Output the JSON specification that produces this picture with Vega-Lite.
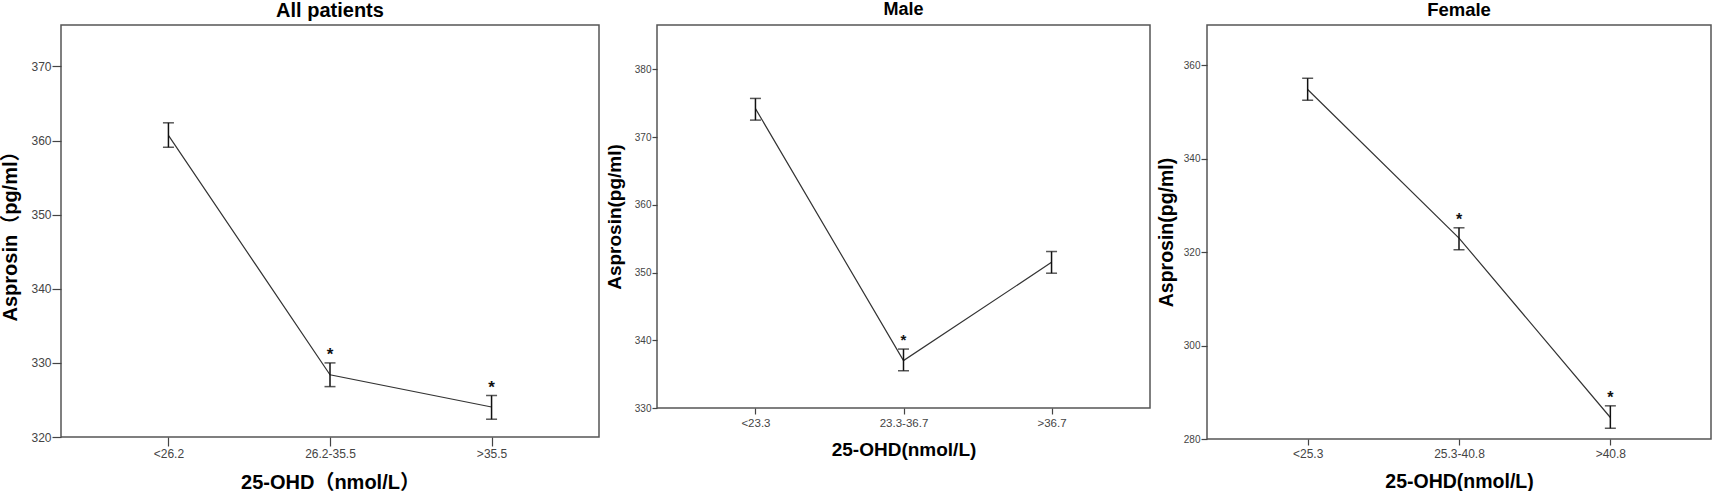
{
  "$schema": "https://vega.github.io/schema/vega-lite/v6.json",
  "padding": {"left": 0, "top": 0, "right": 0, "bottom": 0},
  "spacing": 4,
  "bounds": "full",
  "data": {
    "values": [
      {"panel": "All", "group": "<26.2", "mean": 360.7, "lo": 359.1, "hi": 362.4, "star": ""},
      {"panel": "All", "group": "26.2-35.5", "mean": 328.4, "lo": 326.8, "hi": 330.0, "star": "*"},
      {"panel": "All", "group": ">35.5", "mean": 324.05, "lo": 322.4, "hi": 325.6, "star": "*"},
      {"panel": "Male", "group": "<23.3", "mean": 374.2, "lo": 372.5, "hi": 375.7, "star": ""},
      {"panel": "Male", "group": "23.3-36.7", "mean": 337.0, "lo": 335.5, "hi": 338.7, "star": "*"},
      {"panel": "Male", "group": ">36.7", "mean": 351.5, "lo": 349.9, "hi": 353.1, "star": ""},
      {"panel": "Female", "group": "<25.3", "mean": 354.8, "lo": 352.5, "hi": 357.2, "star": ""},
      {"panel": "Female", "group": "25.3-40.8", "mean": 323.0, "lo": 320.5, "hi": 325.2, "star": "*"},
      {"panel": "Female", "group": ">40.8", "mean": 284.6, "lo": 282.3, "hi": 287.1, "star": "*"}
    ]
  },
  "hconcat": [
    {
      "title": {"text": "All patients", "fontSize": 20, "offset": 4},
      "width": 538,
      "height": 412,
      "transform": [{"filter": "datum.panel === 'All'"}],
      "encoding": {
        "x": {
          "field": "group",
          "type": "nominal",
          "sort": ["<26.2", "26.2-35.5", ">35.5"],
          "scale": {"type": "point", "padding": 0.665},
          "axis": {"title": "25-OHD（nmol/L）", "labelAngle": 0, "tickSize": 9, "labelPadding": 2, "labelFontSize": 12, "titleFontSize": 20, "titlePadding": 13}
        }
      },
      "layer": [
        {
          "mark": {"type": "line", "color": "#333", "strokeWidth": 1.2},
          "encoding": {
            "y": {
              "field": "mean",
              "type": "quantitative",
              "title": "Asprosin（pg/ml）",
              "scale": {"domain": [320, 375.6], "nice": false, "zero": false},
              "axis": {"values": [320, 330, 340, 350, 360, 370], "tickSize": 9, "labelPadding": 1, "labelFontSize": 12, "titleFontSize": 20, "titlePadding": 10}
            }
          }
        },
        {
          "mark": {"type": "rule", "color": "#111", "strokeWidth": 1.5},
          "encoding": {
            "y": {"field": "lo", "type": "quantitative", "title": "Asprosin（pg/ml）"},
            "y2": {"field": "hi"}
          }
        },
        {
          "mark": {"type": "tick", "color": "#111", "size": 11, "thickness": 1.5},
          "encoding": {"y": {"field": "lo", "type": "quantitative", "title": "Asprosin（pg/ml）"}}
        },
        {
          "mark": {"type": "tick", "color": "#111", "size": 11, "thickness": 1.5},
          "encoding": {"y": {"field": "hi", "type": "quantitative", "title": "Asprosin（pg/ml）"}}
        },
        {
          "mark": {"type": "text", "fontSize": 17, "fontWeight": "bold", "baseline": "alphabetic", "dy": -3, "color": "#111"},
          "encoding": {
            "y": {"field": "hi", "type": "quantitative", "title": "Asprosin（pg/ml）"},
            "text": {"field": "star"}
          }
        }
      ]
    },
    {
      "title": {"text": "Male", "fontSize": 18, "offset": 6},
      "width": 493,
      "height": 383,
      "transform": [{"filter": "datum.panel === 'Male'"}],
      "encoding": {
        "x": {
          "field": "group",
          "type": "nominal",
          "sort": ["<23.3", "23.3-36.7", ">36.7"],
          "scale": {"type": "point", "padding": 0.665},
          "axis": {"title": "25-OHD(nmol/L)", "labelAngle": 0, "tickSize": 6, "labelPadding": 3, "labelFontSize": 11.5, "titleFontSize": 19, "titlePadding": 12}
        }
      },
      "layer": [
        {
          "mark": {"type": "line", "color": "#333", "strokeWidth": 1.2},
          "encoding": {
            "y": {
              "field": "mean",
              "type": "quantitative",
              "title": "Asprosin(pg/ml)",
              "scale": {"domain": [330, 386.54], "nice": false, "zero": false},
              "axis": {"values": [330, 340, 350, 360, 370, 380], "tickSize": 5, "labelPadding": 1, "labelFontSize": 10, "titleFontSize": 19, "titlePadding": 10}
            }
          }
        },
        {
          "mark": {"type": "rule", "color": "#111", "strokeWidth": 1.5},
          "encoding": {
            "y": {"field": "lo", "type": "quantitative", "title": "Asprosin(pg/ml)"},
            "y2": {"field": "hi"}
          }
        },
        {
          "mark": {"type": "tick", "color": "#111", "size": 11, "thickness": 1.5},
          "encoding": {"y": {"field": "lo", "type": "quantitative", "title": "Asprosin(pg/ml)"}}
        },
        {
          "mark": {"type": "tick", "color": "#111", "size": 11, "thickness": 1.5},
          "encoding": {"y": {"field": "hi", "type": "quantitative", "title": "Asprosin(pg/ml)"}}
        },
        {
          "mark": {"type": "text", "fontSize": 15, "fontWeight": "bold", "baseline": "alphabetic", "dy": -4, "color": "#111"},
          "encoding": {
            "y": {"field": "hi", "type": "quantitative", "title": "Asprosin(pg/ml)"},
            "text": {"field": "star"}
          }
        }
      ]
    },
    {
      "title": {"text": "Female", "fontSize": 18.5, "offset": 5.5},
      "width": 504,
      "height": 414,
      "transform": [{"filter": "datum.panel === 'Female'"}],
      "encoding": {
        "x": {
          "field": "group",
          "type": "nominal",
          "sort": ["<25.3", "25.3-40.8", ">40.8"],
          "scale": {"type": "point", "padding": 0.665},
          "axis": {"title": "25-OHD(nmol/L)", "labelAngle": 0, "tickSize": 6, "labelPadding": 3, "labelFontSize": 12, "titleFontSize": 19.5, "titlePadding": 13}
        }
      },
      "layer": [
        {
          "mark": {"type": "line", "color": "#333", "strokeWidth": 1.2},
          "encoding": {
            "y": {
              "field": "mean",
              "type": "quantitative",
              "title": "Asprosin(pg/ml)",
              "scale": {"domain": [280, 368.6], "nice": false, "zero": false},
              "axis": {"values": [280, 300, 320, 340, 360], "tickSize": 6, "labelPadding": 1, "labelFontSize": 10, "titleFontSize": 19.5, "titlePadding": 7}
            }
          }
        },
        {
          "mark": {"type": "rule", "color": "#111", "strokeWidth": 1.5},
          "encoding": {
            "y": {"field": "lo", "type": "quantitative", "title": "Asprosin(pg/ml)"},
            "y2": {"field": "hi"}
          }
        },
        {
          "mark": {"type": "tick", "color": "#111", "size": 11, "thickness": 1.5},
          "encoding": {"y": {"field": "lo", "type": "quantitative", "title": "Asprosin(pg/ml)"}}
        },
        {
          "mark": {"type": "tick", "color": "#111", "size": 11, "thickness": 1.5},
          "encoding": {"y": {"field": "hi", "type": "quantitative", "title": "Asprosin(pg/ml)"}}
        },
        {
          "mark": {"type": "text", "fontSize": 16, "fontWeight": "bold", "baseline": "alphabetic", "dy": -3, "color": "#111"},
          "encoding": {
            "y": {"field": "hi", "type": "quantitative", "title": "Asprosin(pg/ml)"},
            "text": {"field": "star"}
          }
        }
      ]
    }
  ],
  "config": {
    "font": "Liberation Sans, Noto Sans CJK SC",
    "view": {"stroke": "#555", "strokeWidth": 1.5},
    "title": {"fontWeight": "bold", "color": "#000", "anchor": "middle"},
    "axis": {
      "domain": false,
      "grid": false,
      "labelColor": "#444",
      "tickColor": "#444",
      "tickWidth": 1.2,
      "titleColor": "#000",
      "titleFontWeight": "bold",
      "labelFont": "Liberation Sans"
    }
  }
}
